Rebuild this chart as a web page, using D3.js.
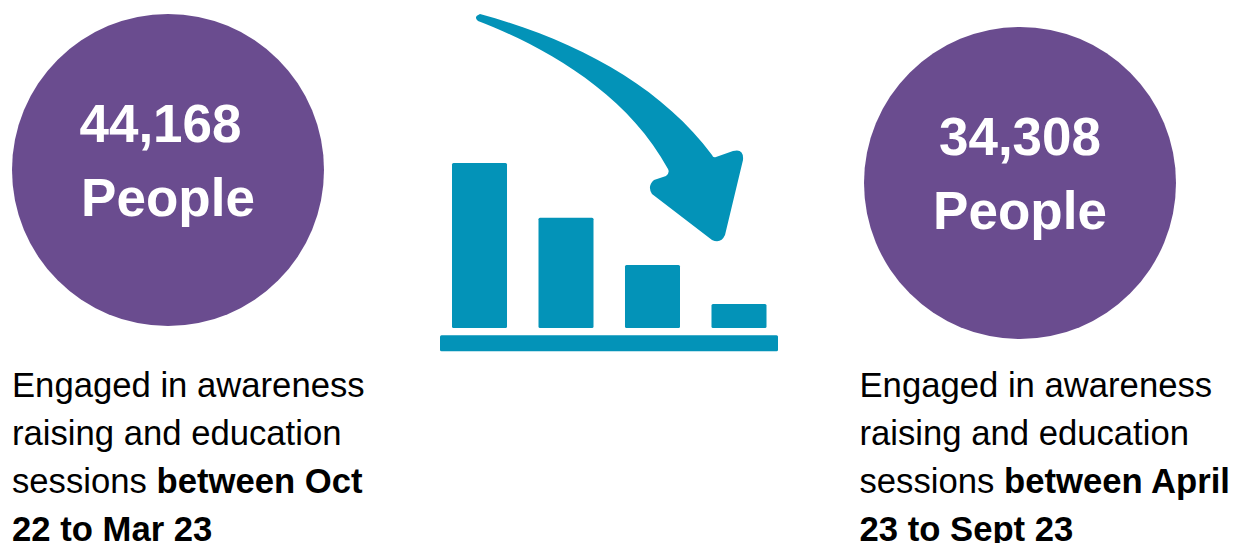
<!DOCTYPE html>
<html><head><meta charset="utf-8">
<script src="https://cdn.jsdelivr.net/npm/d3@7/dist/d3.min.js"></script>
<style>html,body{margin:0;background:#fff}svg{display:block}</style></head>
<body><svg id="c" width="1234" height="543"></svg>
<script>
// Figures for the two reporting periods
const periodTotals = [44168, 34308];
const unitLabel = "People";
const periodDescriptions = [
  [[["Engaged in awareness",0]],[["raising and education",0]],[["sessions ",0],["between Oct",1]],[["22 to Mar 23",1]]],
  [[["Engaged in awareness",0]],[["raising and education",0]],[["sessions ",0],["between April",1]],[["23 to Sept 23",1]]]
];
// Decorative descending bars of the icon
const iconBars = [165, 110.3, 63, 24];

const purple = "#6a4c8f", teal = "#0393b8";
const svg = d3.select("#c");
const font = "Liberation Sans, Arial, sans-serif";
const fmt = d3.format(",");

const circles = [
  {cx:168, cy:170, tx:160.5, ty1:142, ty2:216, dx:12},
  {cx:1020, cy:183, tx:1020, ty1:155, ty2:229, dx:859.5}
];
circles.forEach((c,i)=>{
  svg.append("circle").attr("cx",c.cx).attr("cy",c.cy).attr("r",156).attr("fill",purple);
  svg.append("text").attr("x",c.tx).attr("y",c.ty1).attr("text-anchor","middle")
    .attr("font-family",font).attr("font-weight",700).attr("font-size",53).attr("fill","#fff").text(fmt(periodTotals[i]));
  svg.append("text").attr("x",c.cx).attr("y",c.ty2).attr("text-anchor","middle")
    .attr("font-family",font).attr("font-weight",700).attr("font-size",53).attr("fill","#fff").text(unitLabel);
  periodDescriptions[i].forEach((line,j)=>{
    const t = svg.append("text").attr("x",c.dx).attr("y",396.5+j*48)
      .attr("font-family",font).attr("font-size",34.67).attr("fill","#000");
    line.forEach(([s,b])=>t.append("tspan").attr("font-weight",b?700:400).text(s));
  });
});

// Bar icon
const x = d3.scaleBand().domain(d3.range(iconBars.length)).range([452,766.5]).paddingInner(0.364);
const y = d3.scaleLinear().domain([0,165]).range([328,163]);
svg.selectAll("rect.bar").data(iconBars).join("rect").attr("class","bar")
  .attr("x",(d,i)=>x(i)).attr("y",d=>y(d)).attr("width",x.bandwidth()).attr("height",d=>y(0)-y(d))
  .attr("rx",1.5).attr("fill",teal);
svg.append("rect").attr("x",440).attr("y",335.3).attr("width",338).attr("height",16).attr("rx",1.5).attr("fill",teal);

// Curved downward arrow with softened corners
svg.append("path").attr("fill",teal)
  .attr("d",`M480,14
    C575,40 660,85 712,155
    Q713,158 716,157
    L733,151
    Q744,148 743,160
    L725,235
    Q721,244 712,240
    L652,194
    Q647,186 654,180
    L666,176
    Q670,173 668,169
    C625,90 540,45 478,21
    Q473,17 480,14 Z`);
</script></body></html>
